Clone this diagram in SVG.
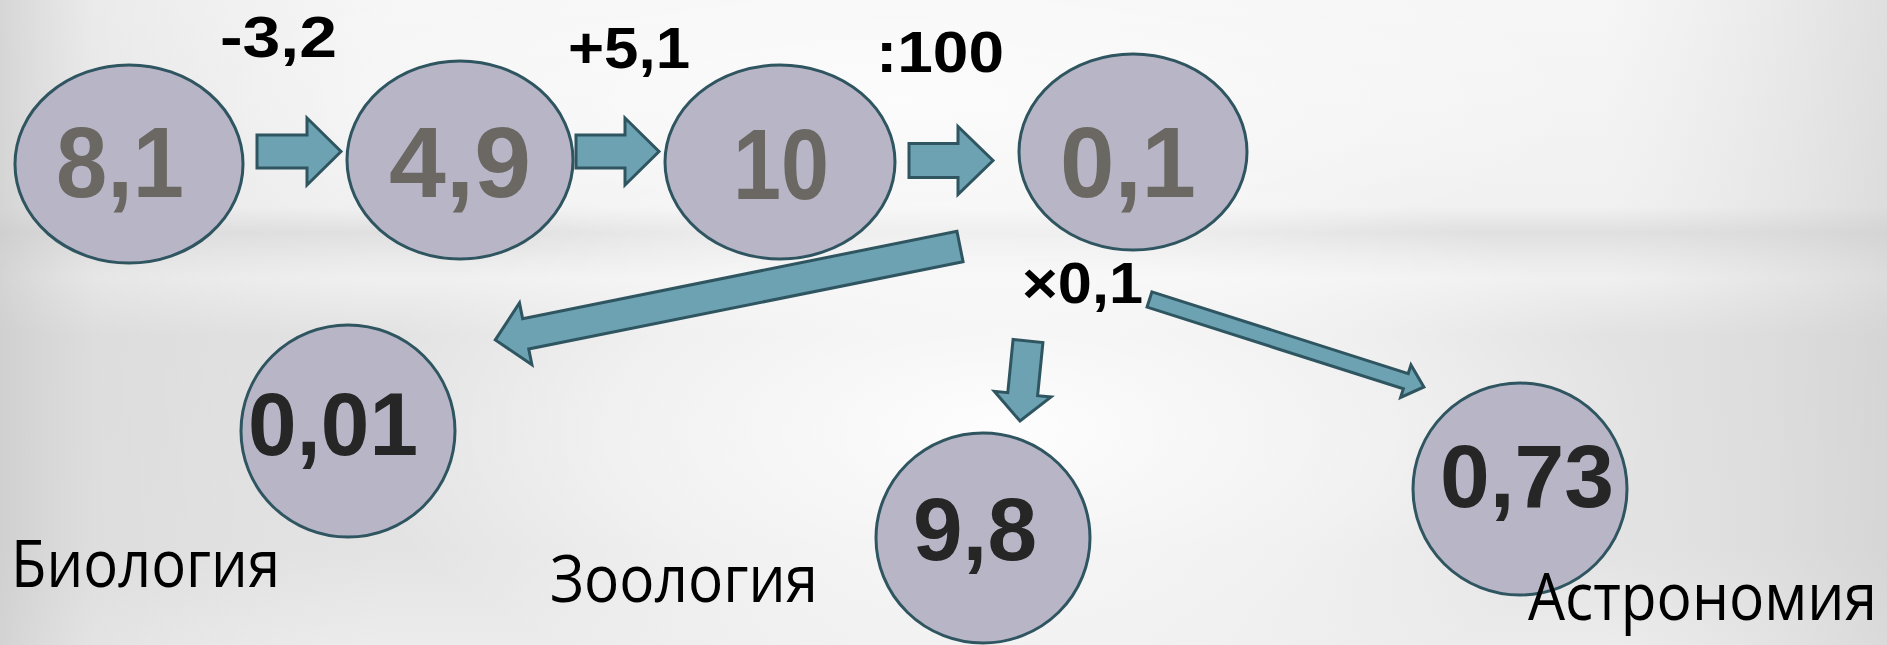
<svg xmlns="http://www.w3.org/2000/svg" width="1887" height="645" viewBox="0 0 1887 645">
<defs>
<linearGradient id="baseV" x1="0" y1="0" x2="0" y2="645" gradientUnits="userSpaceOnUse">
<stop offset="0" stop-color="#f6f6f6"/>
<stop offset="0.32" stop-color="#f1f1f1"/>
<stop offset="0.36" stop-color="#e0e0e0"/>
<stop offset="0.40" stop-color="#eaeaea"/>
<stop offset="0.43" stop-color="#f0f0f0"/>
<stop offset="0.52" stop-color="#e2e2e2"/>
<stop offset="0.85" stop-color="#e3e3e3"/>
<stop offset="1" stop-color="#ececec"/>
</linearGradient>
<linearGradient id="edgeH" x1="0" y1="0" x2="1" y2="0">
<stop offset="0" stop-color="#c8c8c8" stop-opacity="0.7"/>
<stop offset="0.05" stop-color="#d0d0d0" stop-opacity="0.3"/>
<stop offset="0.2" stop-color="#d8d8d8" stop-opacity="0"/>
<stop offset="0.85" stop-color="#d8d8d8" stop-opacity="0"/>
<stop offset="1" stop-color="#c8c8c8" stop-opacity="0.5"/>
</linearGradient>
<radialGradient id="glow" cx="1000" cy="430" r="650" gradientUnits="userSpaceOnUse" gradientTransform="translate(1000 430) scale(1 0.45) translate(-1000 -430)">
<stop offset="0" stop-color="#ffffff" stop-opacity="0.95"/>
<stop offset="0.6" stop-color="#ffffff" stop-opacity="0.5"/>
<stop offset="1" stop-color="#ffffff" stop-opacity="0"/>
</radialGradient>
<radialGradient id="glowTop" cx="900" cy="100" r="700" gradientUnits="userSpaceOnUse" gradientTransform="translate(900 100) scale(1 0.25) translate(-900 -100)">
<stop offset="0" stop-color="#ffffff" stop-opacity="0.7"/>
<stop offset="1" stop-color="#ffffff" stop-opacity="0"/>
</radialGradient>
</defs>
<style>
.node ellipse{fill:#b8b6c6;stroke:#2f5561;stroke-width:3}
.arr{fill:#6ca2b2;stroke:#2f5561;stroke-width:3;stroke-linejoin:miter}
.grey{font-family:"Liberation Sans",Arial,sans-serif;font-weight:bold;font-size:100px;fill:#6b6863}
.dark{font-family:"Liberation Sans",Arial,sans-serif;font-weight:bold;font-size:89px;fill:#262626}
.op{font-family:"Liberation Sans",Arial,sans-serif;font-weight:bold;font-size:58px;fill:#000}
.word{font-family:"Open Sans","Noto Sans",sans-serif;font-size:66px;fill:#000}
</style>
<rect width="1887" height="645" fill="url(#baseV)"/>
<rect width="1887" height="645" fill="url(#edgeH)"/>
<rect width="1887" height="645" fill="url(#glow)"/>
<rect width="1887" height="645" fill="url(#glowTop)"/>

<g id="connectors">
<polygon class="arr" transform="translate(257,151.5)" points="0,-16.5 50,-16.5 50,-33.5 84,0 50,33.5 50,16.5 0,16.5"/>
<polygon class="arr" transform="translate(576,151.5)" points="0,-16.5 49,-16.5 49,-33.5 83,0 49,33.5 49,16.5 0,16.5"/>
<polygon class="arr" transform="translate(909,160.5)" points="0,-17 49,-17 49,-34 84,0 49,34 49,17 0,17"/>
<polygon class="arr" transform="translate(960,246.5) rotate(168.63)" points="0,-15.5 443,-15.5 443,-31.5 474,0 443,31.5 443,15.5 0,15.5"/>
<polygon class="arr" transform="translate(1028,341) rotate(95.7)" points="0,-15 53.4,-15 53.4,-28.5 80.4,0 53.4,28.5 53.4,15 0,15"/>
<polygon class="arr" transform="translate(1149.5,299.5) rotate(17.68)" points="0,-8 269,-8 269,-17 288,0 269,17 269,8 0,8"/>
</g>

<g id="node-8-1" class="node">
<ellipse cx="129" cy="164" rx="114" ry="99"/>
<text class="grey" x="56" y="197" textLength="128" lengthAdjust="spacingAndGlyphs">8,1</text>
</g>
<g id="node-4-9" class="node">
<ellipse cx="460" cy="160" rx="113" ry="99"/>
<text class="grey" x="389" y="197" textLength="142" lengthAdjust="spacingAndGlyphs">4,9</text>
</g>
<g id="node-10" class="node">
<ellipse cx="780" cy="162" rx="115" ry="97"/>
<text class="grey" x="733" y="199" textLength="96" lengthAdjust="spacingAndGlyphs">10</text>
</g>
<g id="node-0-1" class="node">
<ellipse cx="1133" cy="152" rx="114" ry="98"/>
<text class="grey" x="1060" y="197" textLength="136" lengthAdjust="spacingAndGlyphs">0,1</text>
</g>
<g id="node-0-01" class="node">
<ellipse cx="348" cy="431" rx="107" ry="106"/>
<text class="dark" x="248" y="455" textLength="170" lengthAdjust="spacingAndGlyphs">0,01</text>
</g>
<g id="node-9-8" class="node">
<ellipse cx="983" cy="538" rx="107" ry="105"/>
<text class="dark" x="913" y="560" textLength="124" lengthAdjust="spacingAndGlyphs">9,8</text>
</g>
<g id="node-0-73" class="node">
<ellipse cx="1520" cy="489" rx="107" ry="106"/>
<text class="dark" x="1440" y="507" textLength="174" lengthAdjust="spacingAndGlyphs">0,73</text>
</g>

<g id="labels">
<text class="op" x="220" y="57" textLength="117" lengthAdjust="spacingAndGlyphs">-3,2</text>
<text class="op" x="568" y="68" textLength="122" lengthAdjust="spacingAndGlyphs">+5,1</text>
<text class="op" x="876" y="72" textLength="128" lengthAdjust="spacingAndGlyphs">:100</text>
<text class="op" x="1022" y="303" textLength="121" lengthAdjust="spacingAndGlyphs">×0,1</text>
<text class="word" x="11" y="587" textLength="269" lengthAdjust="spacingAndGlyphs">Биология</text>
<text class="word" x="550" y="602" textLength="268" lengthAdjust="spacingAndGlyphs">Зоология</text>
<text class="word" x="1528" y="620" textLength="349" lengthAdjust="spacingAndGlyphs">Астрономия</text>
</g>
</svg>
